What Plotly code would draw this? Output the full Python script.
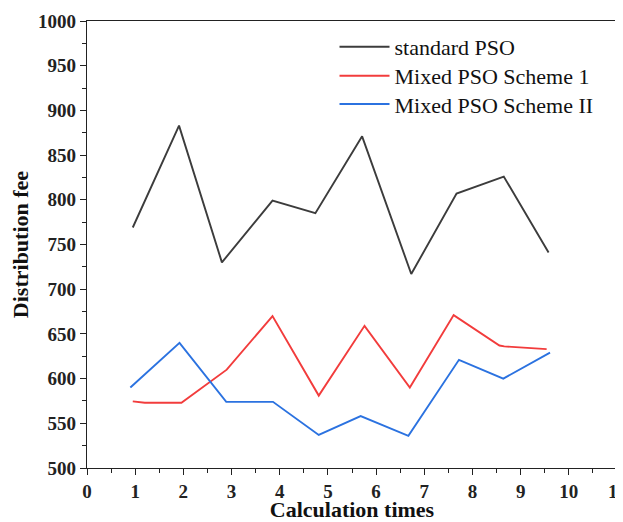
import plotly.graph_objects as go

std_x = [0.95, 1.91, 2.80, 3.85, 4.74, 5.71, 6.73, 7.67, 8.65, 9.58]
std_y = [769, 883, 730, 799, 785, 871, 717, 807, 826, 741]

m1_x = [0.95, 1.20, 1.96, 2.90, 3.85, 4.81, 5.76, 6.70, 7.61, 8.56, 8.66, 9.54]
m1_y = [574.5, 573, 573, 610, 670, 581, 659, 590, 671, 637, 636, 633]

m2_x = [0.90, 1.92, 2.89, 3.86, 4.81, 5.68, 6.67, 7.72, 8.64, 9.61]
m2_y = [590, 640, 574, 574, 537, 558, 536, 621, 600, 629]

names = ["standard PSO", "Mixed PSO Scheme 1", "Mixed PSO Scheme II"]
colors = ["#3c3c3c", "#f23c3c", "#2b72e0"]
legend_ids = ["legend", "legend2", "legend3"]
legend_rows = [0.942, 0.877, 0.814]

fig = go.Figure()
for xs, ys, n, c, lg in [(std_x, std_y, names[0], colors[0], legend_ids[0]),
                         (m1_x, m1_y, names[1], colors[1], legend_ids[1]),
                         (m2_x, m2_y, names[2], colors[2], legend_ids[2])]:
    fig.add_trace(go.Scatter(x=xs, y=ys, mode="lines", name=n, legend=lg,
                             line=dict(color=c, width=1.9)))

font_family = "Liberation Serif, Times New Roman, serif"
legend_style = dict(x=0.467, xanchor="left", yanchor="middle",
                    bgcolor="rgba(0,0,0,0)",
                    font=dict(size=22, family=font_family, color="#111"),
                    itemwidth=50)
# page body has an 8px margin, so the figure is sized to fill the rest of the window
fig.update_layout(
    width=615, height=514,
    margin=dict(l=79, r=6, t=13, b=54),
    plot_bgcolor="white", paper_bgcolor="white",
    font=dict(family=font_family, color="#222"),
    showlegend=True,
    legend=dict(y=legend_rows[0], **legend_style),
    legend2=dict(y=legend_rows[1], **legend_style),
    legend3=dict(y=legend_rows[2], **legend_style),
)
fig.update_xaxes(
    range=[0, 11], tickmode="linear", tick0=0, dtick=1, automargin=False,
    ticklabeloverflow="allow",
    showline=True, linecolor="#222", linewidth=1.3, mirror=True,
    ticks="outside", ticklen=6, tickwidth=1.2, tickcolor="#222",
    minor=dict(ticks="outside", ticklen=3.5, dtick=0.5, tickcolor="#222", tickwidth=1),
    showgrid=False, zeroline=False,
    tickfont=dict(size=19, family=font_family, color="#222", weight="bold"),
    title=dict(text="<b>Calculation times</b>", font=dict(size=22, family=font_family, color="#111"), standoff=3),
)
fig.update_yaxes(
    range=[500, 1000], tickmode="linear", tick0=500, dtick=50, automargin=False,
    showline=True, linecolor="#222", linewidth=1.3, mirror=True,
    ticks="outside", ticklen=6, tickwidth=1.2, tickcolor="#222",
    minor=dict(ticks="outside", ticklen=3.5, dtick=25, tickcolor="#222", tickwidth=1),
    showgrid=False, zeroline=False,
    tickfont=dict(size=19, family=font_family, color="#222", weight="bold"),
    title=dict(text="<b>Distribution fee</b>", font=dict(size=22, family=font_family, color="#111"), standoff=6),
)
fig.write_html("out.html")
